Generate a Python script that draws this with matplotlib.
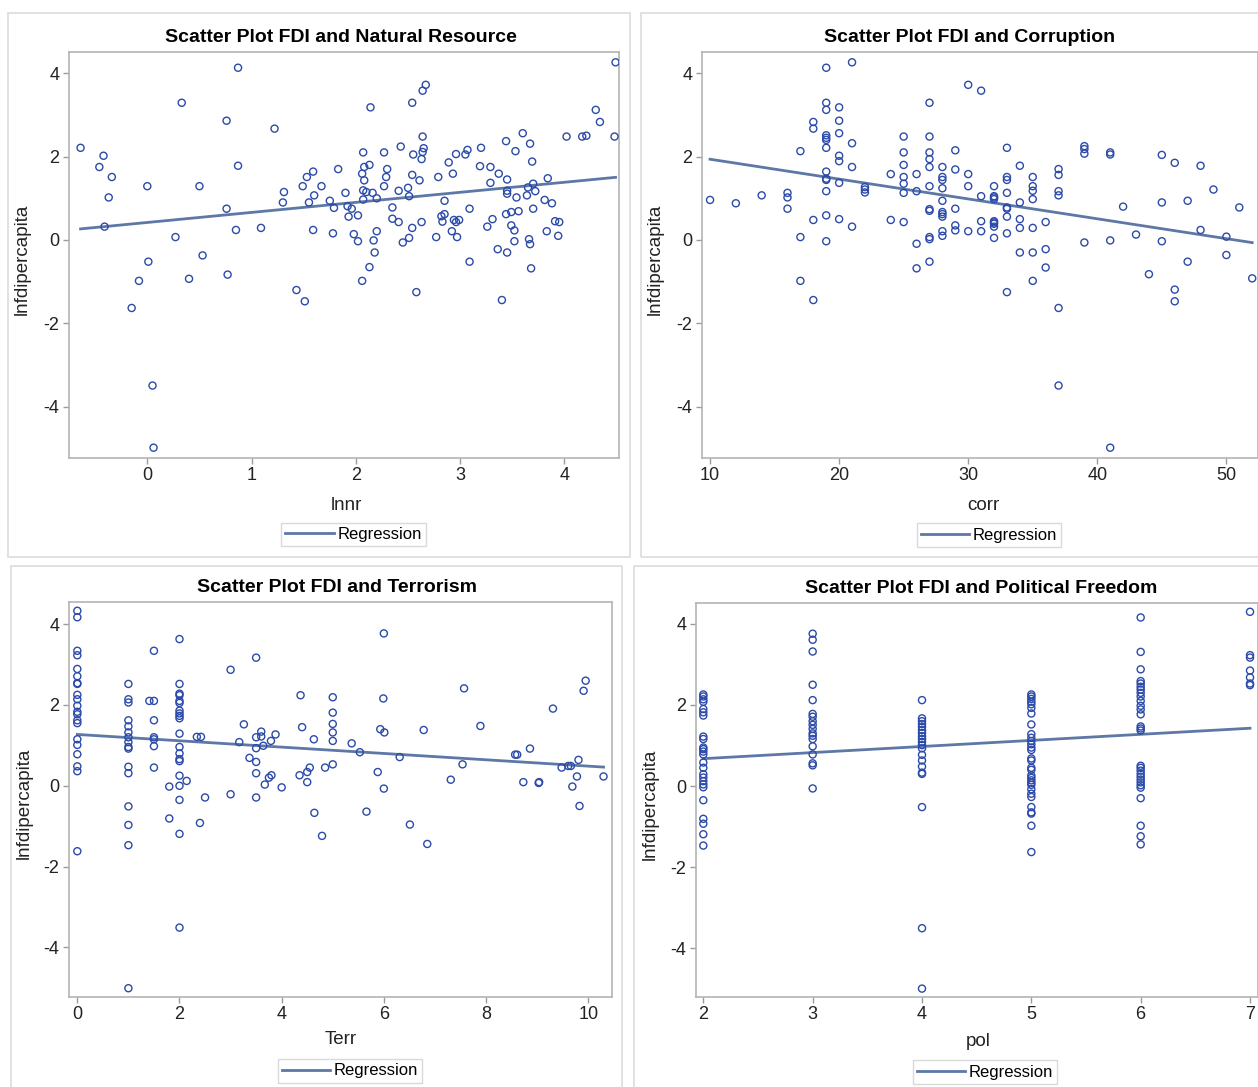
import numpy as np
import matplotlib.pyplot as plt
from matplotlib.patches import Rectangle

plt.rcParams['font.family'] = ['Liberation Sans', 'DejaVu Sans']
plt.rcParams['axes.unicode_minus'] = False

# Scatter Plot FDI and Natural Resource
lnnr = [-0.64, -0.42, -0.46, -0.34, -0.37, -0.41, 0.00, -0.15, -0.08, 0.01, 0.05, 0.06, 0.33, 0.27,
        0.40, 0.50, 0.53, 0.76, 0.76, 0.77, 0.87, 0.87, 0.85, 1.09, 1.22, 1.31, 1.30, 1.43, 1.51, 1.49,
        1.53, 1.59, 1.55, 1.60, 1.59, 1.67, 1.75, 1.79, 1.83, 1.78, 1.90, 1.92, 1.93,
        1.96, 2.02, 1.98, 2.02, 2.06, 2.13, 2.18, 2.17, 2.20, 2.07, 2.08, 2.06, 2.13, 2.08, 2.07, 2.10,
        2.07, 2.16, 2.20, 2.14, 2.27, 2.30, 2.29, 2.27, 2.35, 2.35, 2.41, 2.41, 2.43, 2.45, 2.51, 2.54,
        2.50, 2.51, 2.54, 2.55, 2.54, 2.61, 2.58, 2.63, 2.63, 2.64, 2.65, 2.64, 2.64, 2.67, 2.77, 2.79,
        2.85, 2.82, 2.85, 2.83, 2.89, 2.93, 2.96, 2.92, 2.94, 2.96, 2.99, 2.97, 3.05, 3.07, 3.09, 3.09,
        3.19, 3.20, 3.29, 3.29, 3.37, 3.26, 3.31, 3.36, 3.40, 3.44, 3.53, 3.60, 3.67, 3.69, 3.45, 3.45,
        3.45, 3.54, 3.44, 3.49, 3.56, 3.49, 3.52, 3.52, 3.45, 3.64, 3.65, 3.70, 3.72, 3.70, 3.66, 3.67,
        3.68, 3.84, 3.81, 3.88, 3.91, 3.95, 3.83, 3.94, 4.02, 4.17, 4.21, 4.30, 4.34, 4.48, 4.49]
fdi_nr = [2.21, 2.02, 1.75, 1.51, 1.02, 0.32, 1.29, -1.63, -0.98, -0.52, -3.49, -4.98, 3.29, 0.07,
          -0.93, 1.29, -0.37, 2.86, 0.75, -0.83, 4.13, 1.78, 0.24, 0.29, 2.67, 1.15, 0.90, -1.20, -1.47, 1.29,
          1.51, 1.64, 0.90, 1.07, 0.24, 1.29, 0.94, 0.77, 1.70, 0.16, 1.13, 0.81, 0.56,
          0.75, 0.59, 0.14, -0.03, -0.98, -0.65, -0.30, -0.01, 0.21, 2.10, 1.75, 1.59, 1.80, 1.43, 1.19, 1.15,
          0.97, 1.13, 1.00, 3.18, 2.10, 1.70, 1.51, 1.29, 0.78, 0.51, 0.43, 1.18, 2.24, -0.06, 0.05, 0.29,
          1.25, 1.05, 1.56, 2.05, 3.29, 1.43, -1.25, 0.43, 1.94, 2.11, 2.20, 2.48, 3.58, 3.72, 0.07, 1.51,
          0.94, 0.57, 0.62, 0.44, 1.86, 1.59, 2.06, 0.21, 0.48, 0.43, 0.48, 0.07, 2.05, 2.16, 0.75, -0.52,
          1.77, 2.21, 1.75, 1.37, 1.59, 0.32, 0.50, -0.22, -1.44, 2.37, 2.13, 2.56, 2.31, 1.88, 1.45, 1.18,
          1.11, 1.02, 0.62, 0.67, 0.69, 0.35, 0.23, -0.03, -0.30, 1.07, 1.26, 1.35, 1.17, 0.75, 0.02, -0.10,
          -0.68, 1.48, 0.96, 0.88, 0.45, 0.43, 0.21, 0.10, 2.48, 2.48, 2.50, 3.12, 2.83, 2.48, 4.26]

# Scatter Plot FDI and Corruption
corr = [10, 12, 14, 16, 16, 16, 17, 17, 17, 18, 18, 18, 18,
        19, 19, 19, 19, 19, 19, 19, 19, 19, 19, 19, 19, 19,
        20, 20, 20, 20, 20, 20, 20, 21, 21, 21, 21, 22, 22, 22, 24, 24,
        25, 25, 25, 25, 25, 25, 25, 26, 26, 26, 26,
        27, 27, 27, 27, 27, 27, 27, 27, 27, 27, 27,
        28, 28, 28, 28, 28, 28, 28, 28, 28, 28, 29, 29, 29, 29, 29,
        30, 30, 30, 30, 31, 31, 31, 31,
        32, 32, 32, 32, 32, 32, 32, 32, 32, 33, 33, 33, 33, 33, 33, 33, 33, 33,
        34, 34, 34, 34, 34, 35, 35, 35, 35, 35, 35, 35, 36, 36, 36,
        37, 37, 37, 37, 37, 37, 39, 39, 39, 39, 41, 41, 41, 41, 42, 43, 44,
        45, 45, 45, 46, 46, 46, 47, 47, 48, 48, 49, 50, 50, 51, 52]
fdi_corr = [0.96, 0.88, 1.07, 1.13, 1.02, 0.75, 2.13, 0.07, -0.98, 2.83, 2.67, 0.48, -1.44,
            4.13, 3.29, 3.12, 2.51, 2.45, 2.40, 2.21, 1.64, 1.47, 1.44, 1.17, 0.59, -0.03,
            3.18, 2.86, 2.56, 2.02, 1.89, 1.37, 0.50, 4.26, 2.32, 1.75, 0.32, 1.27, 1.21, 1.14, 1.58, 0.48,
            2.48, 2.10, 1.80, 1.51, 1.35, 1.13, 0.43, 1.58, 1.17, -0.09, -0.68,
            3.29, 2.48, 2.10, 1.94, 1.75, 1.29, 0.74, 0.70, 0.07, 0.02, -0.52,
            1.75, 1.51, 1.44, 1.24, 0.94, 0.67, 0.62, 0.56, 0.21, 0.10, 2.15, 1.69, 0.75, 0.35, 0.23,
            3.72, 1.58, 1.29, 0.21, 3.58, 1.05, 0.45, 0.21,
            1.29, 1.05, 1.02, 0.98, 0.45, 0.42, 0.39, 0.32, 0.05, 2.21, 1.51, 1.44, 1.13, 0.78, 0.75, 0.56, 0.16, -1.25,
            1.78, 0.90, 0.50, 0.29, -0.30, 1.51, 1.29, 1.18, 0.98, 0.29, -0.30, -0.98, 0.43, -0.22, -0.66,
            1.70, 1.56, 1.17, 1.07, -1.63, -3.49, 2.25, 2.18, 2.07, -0.06, 2.10, 2.05, -0.01, -4.98, 0.80, 0.13, -0.82,
            2.04, 0.90, -0.03, 1.85, -1.19, -1.47, 0.94, -0.52, 1.78, 0.24, 1.21, 0.08, -0.36, 0.78, -0.92]

# Scatter Plot FDI and Terrorism
terr = [0, 0, 0, 0, 0, 0, 0, 0, 0, 0, 0, 0, 0, 0, 0, 0, 0, 0, 0, 0, 0,
        1, 1, 1, 1, 1, 1, 1, 1, 1, 1, 1, 1, 1, 1, 1, 1,
        1.41, 1.5, 1.5, 1.5, 1.5, 1.5, 1.5, 1.5,
        2, 2, 2, 2, 2, 2, 2, 2, 2, 2, 2, 2, 2, 2, 2, 2, 2, 2, 2, 2,
        1.80, 2.14, 1.80, 2.34, 2.42, 2.50, 2.40, 3.00, 3.00, 3.26, 3.17, 3.37, 3.50, 3.50, 3.50, 3.50,
        3.50, 3.50, 3.60, 3.60, 3.64, 3.67, 3.75, 3.80, 3.79, 3.88, 4.00, 4.37, 4.40, 4.35, 4.50, 4.55,
        4.50, 4.63, 4.64, 4.79, 4.85, 5, 5, 5, 5, 5, 5,
        5.37, 5.53, 5.66, 5.88, 5.93, 6.01, 5.99, 6.00, 6.00, 6.31, 6.51, 6.78, 6.85, 7.31, 7.54, 7.57,
        7.89, 8.57, 8.61, 8.73, 8.86, 9.03, 9.04, 9.31, 9.48, 9.61, 9.66, 9.81, 9.78, 9.69, 9.83, 9.91,
        9.95, 10.30]
fdi_terr = [4.33, 4.17, 3.34, 3.23, 2.89, 2.71, 2.54, 2.52, 2.25, 2.14, 1.98, 1.83, 1.77, 1.62, 1.55,
            1.15, 1.01, 0.78, 0.48, 0.36, -1.62,
            2.52, 2.14, 2.06, 1.62, 1.47, 1.32, 1.20, 1.08, 0.96, 0.92, 0.47, 0.31, -0.51, -0.97, -1.47, -5.01,
            2.10, 2.10, 3.34, 1.62, 1.20, 1.15, 0.98, 0.45,
            3.63, 2.52, 2.28, 2.24, 2.10, 2.05, 1.86, 1.79, 1.73, 1.67, 1.29, 0.96, 0.80, 0.66, 0.61, 0.25,
            0.00, -0.35, -1.19, -3.51,
            -0.02, 0.12, -0.81, 1.21, 1.21, -0.29, -0.92, 2.87, -0.21, 1.52, 1.08, 0.69, 3.17, 1.20, 0.93, 0.59,
            0.31, -0.29, 1.34, 1.22, 0.99, 0.03, 0.20, 0.26, 1.11, 1.27, -0.04, 2.24, 1.45, 0.26, 0.34, 0.45,
            0.09, 1.15, -0.67, -1.24, 0.45, 2.19, 1.81, 1.53, 1.32, 1.11, 0.53,
            1.05, 0.83, -0.64, 0.34, 1.40, 1.32, 2.16, 3.77, -0.07, 0.71, -0.96, 1.38, -1.44, 0.15, 0.53, 2.41,
            1.48, 0.77, 0.77, 0.09, 0.92, 0.07, 0.09, 1.91, 0.45, 0.49, 0.49, 0.64, 0.23, -0.02, -0.50, 2.35,
            2.60, 0.23]

# Scatter Plot FDI and Political Freedom
pol = [2] * 25 + [3] * 18 + [4] * 20 + [5] * 31 + [6] * 29 + [7] * 7
fdi_pol = [2.26, 2.21, 2.14, 2.08, 1.90, 1.82, 1.74, 1.22, 1.16, 0.95, 0.91, 0.85, 0.78, 0.58, 0.45,
           0.29, 0.21, 0.12, 0.04, -0.03, -0.35, -0.81, -0.93, -1.19, -1.47,
           3.76, 3.61, 3.32, 2.50, 2.12, 1.78, 1.71, 1.60, 1.51, 1.41, 1.30, 1.24, 1.16, 0.98, 0.78, 0.56,
           0.51, -0.06,
           2.12, 1.67, 1.60, 1.53, 1.46, 1.38, 1.31, 1.23, 1.16, 1.09, 1.01, 0.93, 0.77, 0.63, 0.48, 0.33,
           0.30, -0.52, -3.51, -5.00,
           2.26, 2.21, 2.15, 2.08, 2.02, 1.93, 1.79, 1.52, 1.28, 1.19, 1.11, 1.03, 0.95, 0.89, 0.68, 0.63,
           0.45, 0.40, 0.26, 0.20, 0.14, 0.08, 0.03, -0.08, -0.19, -0.27, -0.52, -0.65, -0.68, -0.98, -1.63,
           4.16, 3.31, 2.88, 2.59, 2.53, 2.45, 2.38, 2.30, 2.21, 2.10, 1.98, 1.89, 1.77, 1.47, 1.42, 1.37,
           0.50, 0.45, 0.38, 0.30, 0.23, 0.16, 0.09, 0.02, -0.04, -0.30, -0.98, -1.24, -1.44,
           4.30, 3.23, 3.17, 2.85, 2.68, 2.53, 2.49]

W, H = 1258, 1087
fig = plt.figure(figsize=(W / 100, H / 100), dpi=100)

MARK = '#2b4aa9'
LINE = '#5d77a6'

panels = [
    dict(x=lnnr, y=fdi_nr, title='Scatter Plot FDI and Natural Resource', xlabel='lnnr',
         box=(8, 13, 630, 557), ax=(69.3, 52.3, 618.7, 457.7), xlim=(-0.748, 4.52), ylim=(-5.22, 4.50),
         xticks=[0, 1, 2, 3, 4], title_x=340.5, xlab=(346, 505), leg=(353.5, 534.5), ylab_x=22),
    dict(x=corr, y=fdi_corr, title='Scatter Plot FDI and Corruption', xlabel='corr',
         box=(641, 13, 1275, 557), ax=(702.3, 52.3, 1258, 457.7), xlim=(9.40, 52.45), ylim=(-5.22, 4.50),
         xticks=[10, 20, 30, 40, 50], title_x=969.5, xlab=(983, 505), leg=(989, 535), ylab_x=655),
    dict(x=terr, y=fdi_terr, title='Scatter Plot FDI and Terrorism', xlabel='Terr',
         box=(10.5, 566, 621.6, 1100), ax=(69.3, 602.3, 611.7, 996.7), xlim=(-0.157, 10.46), ylim=(-5.22, 4.54),
         xticks=[0, 2, 4, 6, 8, 10], title_x=336.5, xlab=(341, 1040), leg=(350, 1071), ylab_x=24),
    dict(x=pol, y=fdi_pol, title='Scatter Plot FDI and Political Freedom', xlabel='pol',
         box=(634, 566, 1275, 1100), ax=(696, 603.3, 1258, 996.7), xlim=(1.933, 7.073), ylim=(-5.20, 4.51),
         xticks=[2, 3, 4, 5, 6, 7], title_x=981.5, xlab=(978, 1041), leg=(985, 1072), ylab_x=650),
]

for p in panels:
    bl, bt, br, bb = p['box']
    fig.patches.append(Rectangle((bl / W, 1 - bb / H), (br - bl) / W, (bb - bt) / H,
                                 transform=fig.transFigure, fill=False, edgecolor='#dcdcdc', linewidth=1.2))

    l, t, r, b = p['ax']
    ax = fig.add_axes([l / W, 1 - b / H, (r - l) / W, (b - t) / H])
    aw, ah = r - l, b - t

    x = np.array(p['x'], dtype=float)
    y = np.array(p['y'], dtype=float)
    ax.scatter(x, y, s=26, facecolors='none', edgecolors=MARK, linewidths=1.0, zorder=3)

    slope, icpt = np.polyfit(x, y, 1)
    xs = np.array([x.min(), x.max()])
    ax.plot(xs, icpt + slope * xs, color=LINE, linewidth=2.0, label='Regression', zorder=2)

    ax.set_xlim(p['xlim'])
    ax.set_ylim(p['ylim'])
    ax.set_xticks(p['xticks'])
    ax.set_yticks([-4, -2, 0, 2, 4])
    for s in ax.spines.values():
        s.set_color('#b4b4b4')
        s.set_linewidth(1.2)
    ax.tick_params(length=4.5, width=1, color='#9a9a9a', labelsize=13, pad=2.5, labelcolor='#222222')

    ax.set_title(p['title'], fontsize=14, fontweight='bold', pad=7.5,
                 x=(p['title_x'] - l) / aw)

    ax.set_xlabel(p['xlabel'], fontsize=13.5, color='#222222')
    ax.xaxis.set_label_coords((p['xlab'][0] - l) / aw, (b - p['xlab'][1]) / ah)
    ax.xaxis.label.set_va('center')
    ax.set_ylabel('lnfdipercapita', fontsize=13.5, color='#222222')
    ax.yaxis.set_label_coords((p['ylab_x'] - l) / aw, 0.49)
    ax.yaxis.label.set_va('center')

    leg = ax.legend(loc='center', bbox_to_anchor=((p['leg'][0] - l) / aw, (b - p['leg'][1]) / ah),
                    fontsize=12, frameon=True, fancybox=False, handlelength=2.9, handletextpad=0.2,
                    borderpad=0.25, borderaxespad=0)
    leg.get_frame().set_edgecolor('#d0d0d0')
    leg.get_frame().set_linewidth(1.0)

fig.savefig('out.png', dpi=100)
